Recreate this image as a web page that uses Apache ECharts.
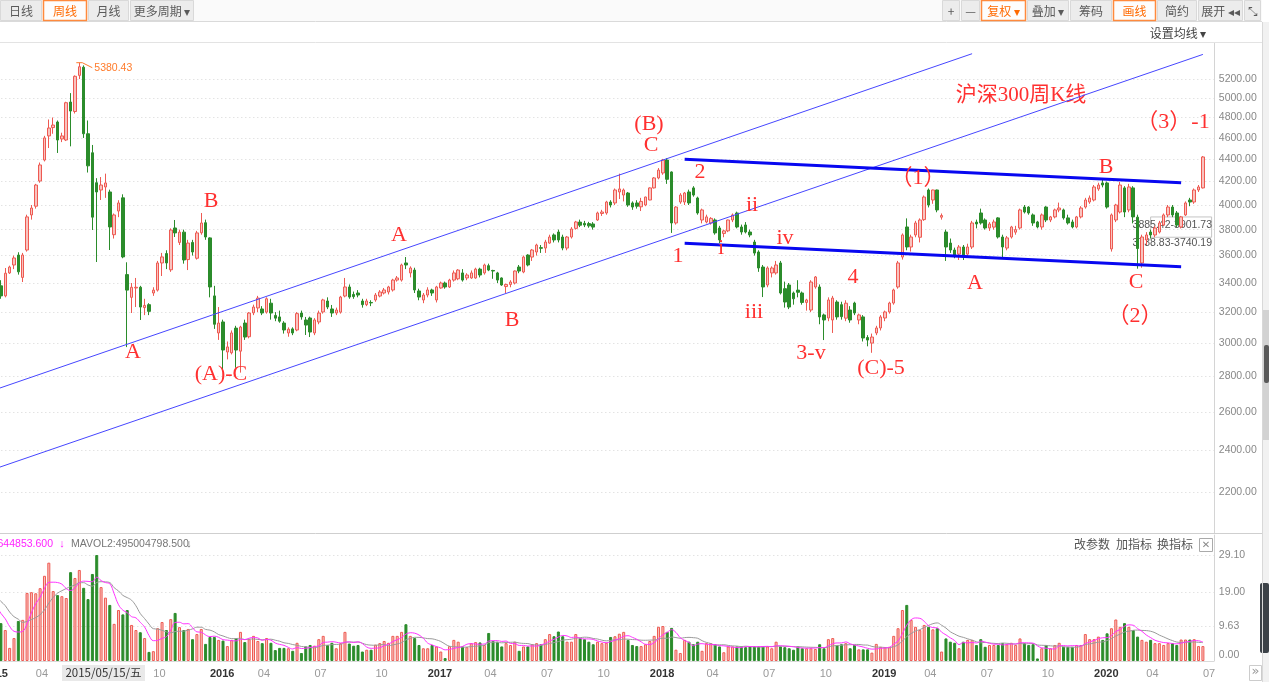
<!DOCTYPE html>
<html>
<head>
<meta charset="utf-8">
<title>沪深300周K线</title>
<script src="https://cdn.jsdelivr.net/npm/echarts@6/dist/echarts.min.js"></script>
<style>
  html, body { margin: 0; padding: 0; background: #fff; }
  #chart { width: 1269px; height: 682px; }
</style>
</head>
<body>
<div id="chart"></div>
<script>
// weekly bars of CSI 300, [open, close, low, high]
const k2015 = [
  [3560,3546,3480,3640],[3540,3604,3500,3640],[3500,3551,3380,3600],[3560,3434,3420,3580],
  [3380,3310,3290,3420],[3310,3470,3300,3508],[3472,3515,3465,3525],[3530,3582,3500,3600],
  [3604,3480,3460,3625],[3440,3604,3407,3620],[3642,3902,3630,3920],[3918,3975,3880,4000],
  [3990,4170,3970,4180],[4205,4348,4190,4370],[4393,4600,4380,4620],[4619,4696,4504,4780],
  [4700,4725,4640,4800],[4755,4580,4458,4770],[4590,4619,4560,4650],[4580,4950,4570,4960],
  [4957,4865,4520,5050],[4860,5230,4840,5240],[5240,5335,5200,5380.43],[5330,4640,4600,5350],
  [4640,4340,4280,4770],[4460,3900,3797,4533],[4190,4110,3552,4230],[4127,4170,4042,4240],
  [4153,4188,4060,4270],[4110,3821,3642,4130],[3760,3918,3730,3930],[3950,4017,3900,4040],
  [4060,3590,3580,4090],[3460,3350,2975,3550],[3300,3370,3194,3400],[3365,3370,3234,3436],
  [3370,3234,3148,3380],[3230,3245,3180,3290],[3250,3205,3180,3260],[3330,3350,3310,3370],
  [3350,3545,3340,3560],[3545,3590,3450,3620],[3615,3545,3500,3640],[3495,3797,3480,3810],
  [3813,3774,3742,3877],[3700,3780,3680,3800],[3780,3567,3540,3800],[3570,3695,3493,3720],
  [3700,3627,3600,3720],[3580,3774,3570,3790],[3775,3853,3760,3934],[3855,3742,3720,3880]
];
const k2016 = [
  [3735,3372,3300,3740],[3310,3120,3090,3380],[3064,3128,3020,3234],[3135,2957,2840,3150],
  [2945,2976,2900,3010],[2940,3064,2930,3080],[3095,2957,2850,3110],[2950,3102,2821,3110],
  [3128,3038,3020,3150],[3040,3194,3030,3200],[3195,3234,3180,3250],[3228,3295,3200,3310],
  [3221,3194,3180,3240],[3200,3290,3190,3300],[3260,3194,3150,3290],[3178,3160,3140,3200],
  [3168,3140,3130,3210],[3128,3083,3060,3140],[3064,3088,3040,3100],[3090,3064,3050,3100],
  [3083,3190,3075,3200],[3194,3168,3150,3210],[3148,3115,3051,3168],[3161,3070,3038,3170],
  [3064,3148,3050,3160],[3135,3194,3120,3210],[3201,3282,3190,3290],[3275,3234,3220,3300],
  [3221,3194,3168,3248],[3194,3214,3180,3230],[3200,3302,3190,3310],[3309,3372,3300,3436],
  [3372,3302,3290,3390],[3320,3305,3290,3340],[3330,3316,3300,3350],[3275,3250,3230,3290],
  [3250,3275,3240,3290],[3265,3262,3240,3280],[3282,3316,3270,3330],[3309,3337,3300,3350],
  [3330,3351,3320,3365],[3337,3372,3320,3380],[3351,3421,3340,3430],[3421,3436,3410,3450],
  [3421,3530,3410,3540],[3545,3530,3500,3589],[3472,3508,3440,3520],[3493,3351,3330,3510],
  [3344,3302,3280,3360],[3282,3316,3260,3330]
];
const k2017 = [
  [3316,3351,3300,3370],[3351,3330,3310,3360],[3282,3372,3265,3380],[3365,3400,3360,3410],
  [3400,3372,3360,3410],[3372,3421,3365,3430],[3421,3472,3410,3490],[3430,3493,3420,3500],
  [3472,3421,3410,3500],[3436,3457,3420,3470],[3436,3472,3430,3490],[3436,3500,3430,3510],
  [3500,3457,3440,3510],[3472,3530,3460,3540],[3525,3493,3485,3540],[3490,3486,3430,3495],
  [3472,3421,3400,3480],[3436,3386,3380,3440],[3375,3390,3330,3395],[3390,3407,3370,3420],
  [3400,3486,3390,3490],[3515,3486,3470,3530],[3479,3589,3470,3600],[3604,3530,3520,3610],
  [3589,3642,3560,3650],[3627,3680,3600,3690],[3660,3655,3620,3680],[3657,3703,3620,3720],
  [3695,3742,3690,3760],[3758,3719,3700,3770],[3781,3719,3700,3800],[3742,3657,3640,3760],
  [3657,3742,3640,3750],[3742,3805,3730,3820],[3810,3861,3800,3870],[3860,3835,3820,3880],
  [3850,3837,3820,3870],[3848,3830,3815,3862],[3845,3820,3800,3860],[3877,3934,3870,3945],
  [3930,3942,3910,3960],[3934,4025,3920,4035],[4025,4000,3980,4040],[4017,4127,4000,4140],
  [4110,4136,4050,4270],[4084,4127,4030,4140],[4101,4000,3985,4110],[4017,3983,3960,4030],
  [4017,3990,3970,4040],[3985,4030,3950,4060],[4000,4067,3990,4070]
];
const k2018 = [
  [4042,4145,4040,4150],[4145,4232,4140,4240],[4232,4302,4220,4320],[4276,4393,4260,4403],
  [4393,4220,4180,4410],[4285,3853,3774,4290],[3853,3983,3840,3990],[4025,4084,4010,4100],
  [4025,4101,4000,4110],[4110,4017,4000,4130],[4145,4084,4070,4160],[4059,3934,3920,4070],
  [3877,3959,3850,3970],[3861,3902,3850,3920],[3853,3890,3840,3900],[3877,3774,3760,3890],
  [3813,3719,3695,3830],[3770,3790,3740,3800],[3790,3877,3780,3880],[3877,3918,3860,3930],
  [3934,3821,3810,3945],[3821,3781,3760,3840],[3837,3781,3770,3860],[3781,3758,3740,3800],
  [3703,3619,3600,3720],[3627,3508,3480,3640],[3515,3372,3302,3530],[3386,3508,3370,3520],
  [3472,3508,3440,3520],[3472,3530,3460,3560],[3545,3330,3320,3560],[3360,3268,3230,3410],
  [3386,3234,3220,3400],[3330,3290,3250,3340],[3350,3335,3300,3420],[3330,3265,3250,3340],
  [3265,3282,3210,3290],[3214,3407,3200,3420],[3372,3443,3360,3450],[3372,3168,3120,3390],
  [3181,3148,3019,3190],[3161,3282,3140,3300],[3148,3295,3064,3310],[3268,3168,3150,3280],
  [3250,3170,3150,3270],[3160,3260,3140,3280],[3214,3148,3130,3240],[3261,3194,3180,3270],
  [3148,3181,3120,3190],[3168,3032,3010,3180],[3035,3019,2980,3050]
];
const k2019 = [
  [3000,3038,2940,3060],[3064,3096,3050,3110],[3096,3168,3080,3180],[3161,3201,3140,3210],
  [3201,3261,3190,3270],[3261,3351,3250,3360],[3372,3545,3360,3560],[3589,3758,3570,3770],
  [3821,3665,3640,3890],[3665,3742,3630,3760],[3758,3853,3740,3870],[3740,3877,3700,3890],
  [3880,4067,3870,4080],[4127,4000,3980,4140],[4042,4127,4010,4130],[4127,3959,3940,4130],
  [3900,3913,3880,3930],[3781,3665,3560,3800],[3695,3642,3620,3730],[3642,3604,3580,3660],
  [3611,3665,3567,3680],[3665,3589,3567,3680],[3611,3665,3590,3690],[3665,3853,3650,3870],
  [3860,3845,3810,3880],[3934,3853,3840,3970],[3877,3813,3800,3890],[3813,3845,3790,3860],
  [3820,3861,3800,3880],[3894,3742,3730,3900],[3742,3665,3589,3760],[3657,3735,3640,3750],
  [3742,3821,3730,3830],[3780,3800,3760,3830],[3813,3959,3800,3970],[3983,3942,3930,4000],
  [3983,3934,3920,3990],[3918,3853,3830,3930],[3861,3821,3810,3870],[3821,3918,3800,3930],
  [3983,3877,3860,3990],[3877,3902,3860,3910],[3902,3959,3890,3970],[3959,3975,3940,4020],
  [3959,3894,3880,3970],[3894,3853,3840,3920],[3861,3821,3810,3880],[3821,3902,3810,3910],
  [3902,3975,3890,3990],[3983,4042,3970,4060],[4025,4059,4010,4080]
];
const k2020 = [
  [4042,4153,4030,4170],[4136,4170,4120,4190],[4188,4170,4150,4215],[4188,3983,3970,4200],
  [3650,3918,3630,3930],[3877,4000,3860,4010],[3942,4170,3930,4197],[4145,3942,3900,4160],
  [3959,4153,3940,4180],[4145,3902,3850,4160],[3900,3653,3503,3920],[3545,3742,3510,3760],
  [3719,3758,3680,3780],[3781,3758,3730,3800],[3758,3813,3740,3830],[3781,3853,3770,3870],
  [3837,3918,3830,3930],[3918,3983,3900,4000],[3983,3918,3900,4000],[3934,3837,3820,3950],
  [3821,3902,3810,3910],[3918,4017,3910,4030],[4042,4025,3990,4060],[4025,4127,4010,4140],
  [4127,4153,4110,4170],[4145,4421,4140,4430]
];

// weekly volume, 亿股
const vol2015 = [16,14,13,12,10.4,8.5,3.6,6.3,11,11.3,18.7,18.9,18.6,20,23.4,27,19.2,18.1,17.8,17.3,
  24.4,22.8,25,20.1,17,23.9,29.1,20.3,17.4,15.4,10.2,14,12.8,14,9.9,8.5,7.9,6.3,2.5,2.7,
  9,10.7,8.5,11.5,13.2,9.3,8.5,8.8,6.0,7.4,8.8,4.7];
const vol2016 = [6.6,6.6,5.8,5.6,4.1,5.8,6.3,8,5.2,6.0,6.9,5.5,4.9,6.3,5,3.0,3.6,3.6,3.5,2.8,
  5,2.2,4,4.4,4.2,6,6.9,4.4,5,3.5,4.9,8,4.8,4.2,4.4,2.6,3.1,3.1,4.5,4.9,
  5.5,5,6.9,6.9,8,10.1,6.9,6.3,4.4,3.5];
const vol2017 = [3.5,4.4,4,2.6,0.8,4.1,5.8,5.3,4,3.8,4.9,5.2,5.1,4.4,7.7,5.5,5.3,4,4.9,4.4,
  5.3,2.8,4,4,4.6,4.9,4.6,6,7.4,6.8,8.1,6.8,5.3,5.3,7.4,6.3,6.0,5.3,4.6,5.3,
  4.9,5,6.6,6.8,7.5,8,5.8,4.4,4.1,4.1,4.6];
const vol2018 = [5.5,6.9,9.4,9.6,8,9.1,3.1,2.2,5.8,5.3,4.6,5.3,2.8,4.9,4.9,4.6,4,2.4,4,4,
  4,4,3.8,4,4,4,4.1,4,3.5,5.3,4,3.8,3.5,3.1,4,3.5,3.5,3.5,3.3,4.6,
  3.5,6,6.3,4.4,4.6,4.9,3.5,4.4,3.2,3.2,3.2];
const vol2019 = [2.3,4.7,3.9,3.8,3.9,6.9,9.0,14.0,15.4,11.3,9.4,8.5,9.9,9.4,8.7,9.0,2.6,
  6.2,5.3,5.0,3.5,5.3,5.8,5.8,4.4,6.0,3.9,4.4,4.4,4.4,4.9,4.6,5.0,4.4,6.2,4.9,4.4,4.6,
  0.7,3.5,4.4,3.5,4.4,5.0,3.9,3.9,3.9,4.4,4.4,7.4,6.0];
const vol2020 = [6.0,6.7,5.8,7.6,9.0,11.4,9.4,10.4,9.4,8.5,6.7,5.8,5.3,5.8,4.9,4.9,4.4,4.9,4.9,4.4,
  5.9,5.9,5.9,6.0,4.1,4.1];
// weeks before the window, only used to warm up the MAVOL lines
const volPrior = [15,17,19,22,20,21,19,18,20];

const priceTicks = [2200,2400,2600,2800,3000,3200,3400,3600,3800,4000,4200,4400,4600,4800,5000,5200];
const volTicks = [0, 9.63, 19.0, 29.1];

// weeks with no trading day, and weeks whose Friday was a holiday
const skipWeeks = ['2016-02-12','2016-10-07','2017-10-06','2018-10-05','2019-02-08','2020-01-31'];
const lastTradeDay = {'2015-10-02': '2015-09-30', '2016-01-01': '2015-12-31', '2019-10-04': '2019-09-30'};

// hand drawn lines: [[week index, price], [week index, price]]
const channelLines = [[[0, 2700], [227, 5482]], [[0, 2290], [280, 5474]]];
const boxLines = [[[161, 4400], [275, 4190]], [[161, 3693], [275, 3517]]];

const dates = [];
for (let t = Date.UTC(2015, 0, 9); t <= Date.UTC(2020, 6, 3); t += 7 * 864e5) {
  const s = new Date(t).toISOString().slice(0, 10);
  if (skipWeeks.indexOf(s) < 0) dates.push(lastTradeDay[s] || s);
}
const cats = dates.concat([' ', '  ']);
const kline = k2015.concat(k2016, k2017, k2018, k2019, k2020);
const volumes = vol2015.concat(vol2016, vol2017, vol2018, vol2019, vol2020);

const labelAt = new Set();
dates.forEach((s, i) => {
  const m = +s.slice(5, 7);
  const pm = i > 0 ? +dates[i - 1].slice(5, 7) : 0;
  if (m !== pm && m % 3 === 1) labelAt.add(i);
});

function mavol(n) {
  const all = volPrior.concat(volumes);
  return volumes.map((_, i) => {
    const j = i + volPrior.length;
    let s = 0;
    for (let k = j - n + 1; k <= j; k++) s += all[k];
    return +(s / n).toFixed(3);
  });
}

const upStyle = {color: '#f9c3bf', borderColor: '#ee5a52', borderWidth: 1};
const downStyle = {color: '#2b8c2b', borderColor: '#2b8c2b', borderWidth: 1};
const volData = volumes.map((v, i) => ({
  value: v,
  itemStyle: kline[i][1] >= kline[i][0] ? upStyle : downStyle
}));

const step = 4.355;
const gridLeft = -16.5 - step / 2;
const gridWidth = step * cats.length;
const axisFont = 'Liberation Sans';

function lineSeries(seg, color, width) {
  return {
    type: 'line', xAxisIndex: 0, yAxisIndex: 0, silent: true, symbol: 'none', z: 4,
    lineStyle: {color: color, width: width},
    data: seg.map(p => [cats[p[0]], Math.log(p[1])])
  };
}

const chart = echarts.init(document.getElementById('chart'));
const option = {
  animation: false,
  backgroundColor: '#fff',
  grid: [
    {left: gridLeft, top: 43, width: gridWidth, height: 490, outerBoundsMode: 'none', containLabel: false},
    {left: gridLeft, top: 535, width: gridWidth, height: 126, outerBoundsMode: 'none', containLabel: false}
  ],
  xAxis: [
    {type: 'category', gridIndex: 0, data: cats, axisLine: {show: false}, axisTick: {show: false},
      axisLabel: {show: false}, splitLine: {show: false}},
    {type: 'category', gridIndex: 1, data: cats,
      axisLine: {lineStyle: {color: '#d9d9d9'}}, axisTick: {show: false},
      axisLabel: {
        interval: i => labelAt.has(i), align: 'left', margin: 7,
        formatter: v => v.slice(5, 7) === '01' ? '{y|' + v.slice(0, 4) + '}' : '{m|' + v.slice(5, 7) + '}',
        rich: {
          y: {fontFamily: axisFont, fontSize: 11, fontWeight: 'bold', color: '#333'},
          m: {fontFamily: axisFont, fontSize: 11, color: '#999'}
        }
      }}
  ],
  yAxis: [
    {type: 'value', gridIndex: 0, position: 'right', min: 7.61072, max: 8.63155,
      axisLine: {show: true, lineStyle: {color: '#d4d4d4'}},
      axisTick: {show: false, customValues: priceTicks.map(Math.log)},
      axisLabel: {customValues: priceTicks.map(Math.log), margin: 5, color: '#888',
        fontFamily: axisFont, fontSize: 10.5,
        formatter: v => Math.round(Math.exp(v)).toFixed(2)},
      splitLine: {show: true, lineStyle: {color: '#d6d6d6', type: [1, 3]}}},
    {type: 'value', gridIndex: 1, position: 'right', min: 0, max: 34.6,
      axisLine: {show: true, lineStyle: {color: '#d4d4d4'}},
      axisTick: {show: false, customValues: volTicks},
      axisLabel: {customValues: volTicks, margin: 5,
        formatter: v => v === 0 ? '{z|0.00}' : '{n|' + v.toFixed(2) + '}',
        rich: {
          z: {fontFamily: axisFont, fontSize: 10.5, color: '#888', padding: [0, 0, 12, 0]},
          n: {fontFamily: axisFont, fontSize: 10.5, color: '#888'}
        }},
      splitLine: {show: true, lineStyle: {color: '#d6d6d6', type: [1, 3]}}}
  ],
  series: [
    {
      type: 'candlestick', xAxisIndex: 0, yAxisIndex: 0, barWidth: 3, silent: true,
      data: kline.map(r => r.map(Math.log)),
      itemStyle: {color: '#f9c3bf', color0: '#2b8c2b', borderColor: '#ee5a52', borderColor0: '#2b8c2b', borderWidth: 1},
      markArea: {
        silent: true,
        itemStyle: {color: 'rgba(0,0,0,0)', borderColor: '#c4c4c4', borderWidth: 1},
        data: [[{xAxis: cats[268], yAxis: Math.log(3740.19)}, {xAxis: cats[282], yAxis: Math.log(3901.73)}]]
      }
    },
    lineSeries(channelLines[0], '#4646ff', 1),
    lineSeries(channelLines[1], '#4646ff', 1),
    lineSeries(boxLines[0], '#0808f0', 3),
    lineSeries(boxLines[1], '#0808f0', 3),
    {type: 'bar', xAxisIndex: 1, yAxisIndex: 1, barWidth: 3, silent: true, data: volData},
    {type: 'line', xAxisIndex: 1, yAxisIndex: 1, silent: true, symbol: 'none', smooth: 0.4,
      lineStyle: {color: '#ff33ff', width: 1}, data: mavol(5), z: 5},
    {type: 'line', xAxisIndex: 1, yAxisIndex: 1, silent: true, symbol: 'none', smooth: 0.4,
      lineStyle: {color: '#9a9a9a', width: 1}, data: mavol(10), z: 4}
  ]
};
chart.setOption(option);

// ---- annotations and page chrome ----
const cjk = '"Noto Sans CJK SC"';
const serif = '"Liberation Serif", "Noto Sans CJK SC"';
const red = '#ff3030';

function txt(text, x, y, font, fill, align, z) {
  return {type: 'text', x: x, y: y, z: z || 60, silent: true,
    style: {text: text, font: font, fill: fill, textAlign: align || 'center', align: align || 'center',
      textVerticalAlign: 'middle', verticalAlign: 'middle'}};
}
function rect(x, y, w, h, fill, stroke, lw, z, r) {
  return {type: 'rect', z: z || 50, silent: true, shape: {x: x, y: y, width: w, height: h, r: r || 0},
    style: {fill: fill, stroke: stroke || null, lineWidth: lw || 1}};
}
function hline(x1, y1, x2, y2, color, z) {
  return {type: 'line', z: z || 50, silent: true, shape: {x1: x1, y1: y1, x2: x2, y2: y2},
    style: {stroke: color, lineWidth: 1}};
}

const g = [];
// toolbar
g.push(rect(0, 0, 1262, 21, '#fafafa'));
g.push(hline(0, 21.5, 1262, 21.5, '#dadada'));
const toolbar = [
  ['日线', 0, 42, false], ['周线', 43, 44, true], ['月线', 88, 41, false], ['更多周期 ▾', 130, 64, false],
  ['+', 942, 18, false], ['—', 961, 19, false], ['复权 ▾', 981, 45, true], ['叠加 ▾', 1027, 42, false],
  ['筹码', 1070, 42, false], ['画线', 1113, 43, true], ['简约', 1157, 40, false], ['展开 ◂◂', 1198, 45, false],
  ['⤡', 1244, 17, false]
];
toolbar.forEach(b => {
  g.push(rect(b[1] + 0.5, 0.5, b[2] - 1, 20, b[3] ? '#fdfdfd' : '#ececec', b[3] ? '#ff8a3d' : '#d9d9d9', b[3] ? 1.5 : 1));
  g.push(txt(b[0], b[1] + b[2] / 2, 11, '12px ' + cjk, b[3] ? '#ff6a00' : '#5a5a5a'));
});
g.push(txt('设置均线 ▾', 1178, 33, '12px ' + cjk, '#444'));
g.push(hline(0, 42.5, 1262, 42.5, '#e3e3e3'));
g.push(hline(0, 533.5, 1262, 533.5, '#cfcfcf'));
g.push(hline(1262.5, 22, 1262.5, 682, '#d8d8d8'));
// scroll strip on the right
g.push(rect(1263, 22, 6, 660, '#f1f1f1', null, 1, 40));
g.push(rect(1263, 310, 6, 130, '#d2d2d2', null, 1, 41));
g.push(rect(1264, 345, 5, 38, '#5a5a5a', null, 1, 42, 2));
g.push(rect(1260, 583, 9, 70, '#3b4147', null, 1, 42, 2));

// volume panel header
g.push(txt('MAVOL1:556644853.600', 53, 544, '10.5px ' + axisFont, '#ff22ff', 'right'));
g.push(txt('↓', 62, 544, '11px ' + axisFont, '#ff22ff'));
g.push(txt('MAVOL2:495004798.500', 71, 544, '10.5px ' + axisFont, '#777', 'left'));
g.push(txt('↓', 189, 544, '11px ' + axisFont, '#777'));
g.push(txt('改参数', 1092, 544, '12px ' + cjk, '#555'));
g.push(txt('加指标', 1134, 544, '12px ' + cjk, '#555'));
g.push(txt('换指标', 1175, 544, '12px ' + cjk, '#555'));
g.push(rect(1199.5, 538.5, 13, 13, '#fff', '#aaa'));
g.push(txt('✕', 1206, 545, '10px "DejaVu Sans"', '#888'));

// crosshair date box and scroll button on the time axis
g.push(rect(62, 665, 83, 16, '#e9e9e9', null, 1, 70));
g.push(txt('2015/05/15/五', 103.5, 673, '11.5px ' + cjk, '#333', 'center', 71));
g.push(rect(1249.5, 665.5, 12, 15, '#fff', '#ccc'));
g.push(txt('»', 1255.5, 672, '13px "DejaVu Sans"', '#999'));

// wave count marks
const waveLabels = [
  ['A', 133, 352], ['B', 211, 201], ['(A)-C', 221, 374], ['A', 399, 235], ['B', 512, 320],
  ['(B)', 649, 124], ['C', 651, 145], ['2', 700, 172], ['1', 678, 256], ['i', 721, 248],
  ['ii', 752, 205], ['iv', 785, 238], ['iii', 754, 312], ['4', 853, 277], ['3-v', 811, 353],
  ['(C)-5', 881, 368], ['（1）', 918, 178], ['A', 975, 283], ['B', 1106, 167], ['C', 1136, 282],
  ['（2）', 1135, 316], ['（3）-1', 1173, 122]
];
waveLabels.forEach(w => g.push(txt(w[0], w[1], w[2], '22px ' + serif, red)));
g.push(txt('沪深300周K线', 1021, 95, '21px ' + serif, red, 'center', 3));

// gap notes
g.push(txt('3885.42-3901.73', 1212, 225, '10.5px ' + axisFont, '#555', 'right', 1));
g.push(txt('3738.83-3740.19', 1212, 243, '10.5px ' + axisFont, '#555', 'right', 1));

// highest point marker
let peak = 0;
kline.forEach((r, i) => { if (r[3] > kline[peak][3]) peak = i; });
const pp = chart.convertToPixel({gridIndex: 0}, [peak, Math.log(kline[peak][3])]);
g.push({type: 'polyline', z: 60, silent: true,
  shape: {points: [[pp[0] - 3, pp[1]], [pp[0] + 3, pp[1]], [pp[0] + 13, pp[1] + 5]]},
  style: {stroke: '#ff7b2b', lineWidth: 1, fill: null}});
g.push(txt(kline[peak][3].toFixed(2), pp[0] + 15, pp[1] + 5, '10.5px ' + axisFont, '#ff7b2b', 'left'));

chart.setOption({graphic: g});
</script>
</body>
</html>
